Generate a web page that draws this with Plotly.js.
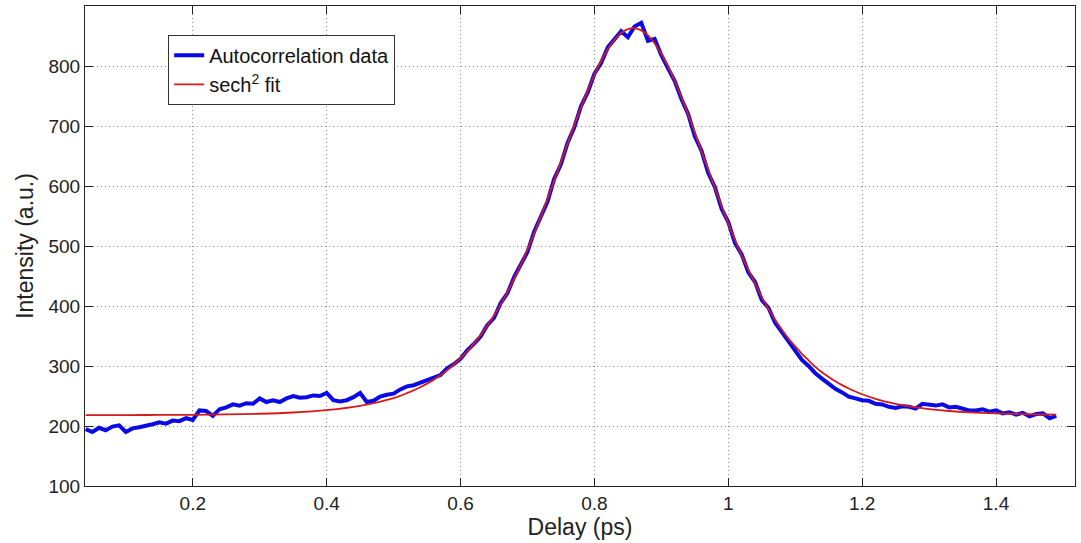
<!DOCTYPE html>
<html>
<head>
<meta charset="utf-8">
<script src="https://cdn.plot.ly/plotly-3.0.1.min.js"></script>
<style>html,body{margin:0;padding:0;background:#fff;}#chart{width:1081px;height:543px;}</style>
</head>
<body>
<div id="chart"></div>
<script>
// Autocorrelation data (delay in ps, intensity in a.u.)
const dataDelay = [0.04,0.05,0.06,0.07,0.08,0.09,0.10,0.11,0.12,0.13,0.14,0.15,0.16,0.17,0.18,0.19,0.20,0.21,0.22,0.23,0.24,0.25,0.26,0.27,0.28,0.29,0.30,0.31,0.32,0.33,0.34,0.35,0.36,0.37,0.38,0.39,0.40,0.41,0.42,0.43,0.44,0.45,0.46,0.47,0.48,0.49,0.50,0.51,0.52,0.53,0.54,0.55,0.56,0.57,0.58,0.59,0.60,0.61,0.62,0.63,0.64,0.65,0.66,0.67,0.68,0.69,0.70,0.71,0.72,0.73,0.74,0.75,0.76,0.77,0.78,0.79,0.80,0.81,0.82,0.83,0.84,0.85,0.86,0.87,0.88,0.89,0.90,0.91,0.92,0.93,0.94,0.95,0.96,0.97,0.98,0.99,1.00,1.01,1.02,1.03,1.04,1.05,1.06,1.07,1.08,1.09,1.10,1.11,1.12,1.13,1.14,1.15,1.16,1.17,1.18,1.19,1.20,1.21,1.22,1.23,1.24,1.25,1.26,1.27,1.28,1.29,1.30,1.31,1.32,1.33,1.34,1.35,1.36,1.37,1.38,1.39,1.40,1.41,1.42,1.43,1.44,1.45,1.46,1.47,1.48,1.49];
const dataIntensity = [195,190,197,193,199,201,190,196,198,200,203,206,204,209,208,213,210,226,225,217,228,231,236,234,238,237,246,240,243,240,246,250,247,248,251,250,255,243,241,243,248,255,240,242,249,252,254,261,266,268,272,276,280,285,296,303,312,326,337,349,368,380,405,421,448,470,490,524,551,574,612,636,672,698,733,756,787,805,831,845,858,848,866,872,842,845,818,796,775,745,720,683,659,622,598,562,540,505,486,456,440,410,397,372,357,340,326,310,300,288,279,270,262,256,249,246,243,242,237,236,232,230,233,232,229,237,236,234,236,231,232,229,226,226,228,224,226,221,223,219,222,216,220,221,213,217];

// sech^2 fit curve
const fitDelay = [0.04,0.10,0.15,0.20,0.25,0.30,0.35,0.40,0.45,0.50,0.52,0.54,0.55,0.56,0.57,0.58,0.59,0.60,0.61,0.62,0.63,0.64,0.65,0.66,0.67,0.68,0.69,0.70,0.71,0.72,0.73,0.74,0.75,0.76,0.77,0.78,0.79,0.80,0.81,0.82,0.83,0.84,0.85,0.86,0.87,0.88,0.89,0.90,0.91,0.92,0.93,0.94,0.95,0.96,0.97,0.98,0.99,1.00,1.01,1.02,1.03,1.04,1.05,1.06,1.07,1.08,1.09,1.10,1.11,1.12,1.13,1.14,1.15,1.16,1.17,1.18,1.19,1.20,1.22,1.24,1.26,1.28,1.30,1.33,1.36,1.40,1.45,1.49];
const fitIntensity = [218.1,218.2,218.4,218.7,219.3,220.4,222.5,226.4,233.5,246.6,254.7,264.6,270.6,277,284.8,293,302.5,312.9,324.4,337.2,351.4,366.9,384,402.7,423,445,468.7,494,521,549,578.6,609,639.8,670.8,701.5,731.3,759,785,808.3,828,843.7,855,861.4,863,859.4,851,837.8,820.4,799.4,775,748,719.3,689,658,627.4,596.6,566.7,538,510.4,484.5,460.2,437.8,414.7,395.4,377,361,345.6,332.6,320.4,309.5,298.6,289.5,281.8,274.6,268.1,262.5,257.5,252.9,245.3,239.2,234.7,231,228.2,225,222.8,221,219.6,219];

const xTickVals = [0.2,0.4,0.6,0.8,1.0,1.2,1.4];
const xTickText = ["0.2","0.4","0.6","0.8","1","1.2","1.4"];
const yTickVals = [100,200,300,400,500,600,700,800];
const yTickText = ["100","200","300","400","500","600","700","800"];

const FONT = '"Liberation Sans", Arial, sans-serif';

const traces = [
  {x: dataDelay, y: dataIntensity, type: 'scatter', mode: 'lines', name: 'Autocorrelation data',
   line: {color: '#0a0ae6', width: 4}},
  {x: fitDelay, y: fitIntensity, type: 'scatter', mode: 'lines', name: 'sech<sup>2</sup> fit',
   line: {color: '#d41a1a', width: 1.8, shape: 'spline'}}
];

const axisCommon = {
  showline: true, linecolor: '#222', linewidth: 1, mirror: 'ticks',
  ticks: 'inside', ticklen: 8, tickcolor: '#222', tickwidth: 1,
  showgrid: true, gridcolor: '#8c8c8c', griddash: '1px,3px', gridwidth: 1,
  zeroline: false, tickfont: {family: FONT, size: 19, color: '#222'}
};

const layout = {
  width: 1081, height: 543,
  margin: {l: 85, r: 6, t: 6, b: 57},
  paper_bgcolor: '#fff', plot_bgcolor: '#fff',
  showlegend: true,
  legend: {x: 0.084, y: 0.94, xanchor: 'left', yanchor: 'top',
    bgcolor: '#fff', bordercolor: '#333', borderwidth: 1,
    font: {family: FONT, size: 20, color: '#111'}},
  xaxis: Object.assign({}, axisCommon, {
    range: [0.039, 1.518], tickvals: xTickVals, ticktext: xTickText,
    title: {text: 'Delay (ps)', font: {family: FONT, size: 23, color: '#222'}, standoff: 4}
  }),
  yaxis: Object.assign({}, axisCommon, {
    range: [100, 900], tickvals: yTickVals, ticktext: yTickText,
    title: {text: 'Intensity (a.u.)', font: {family: FONT, size: 23, color: '#222'}, standoff: 8}
  })
};

Plotly.newPlot('chart', traces, layout, {staticPlot: true, displayModeBar: false});
</script>
</body>
</html>
